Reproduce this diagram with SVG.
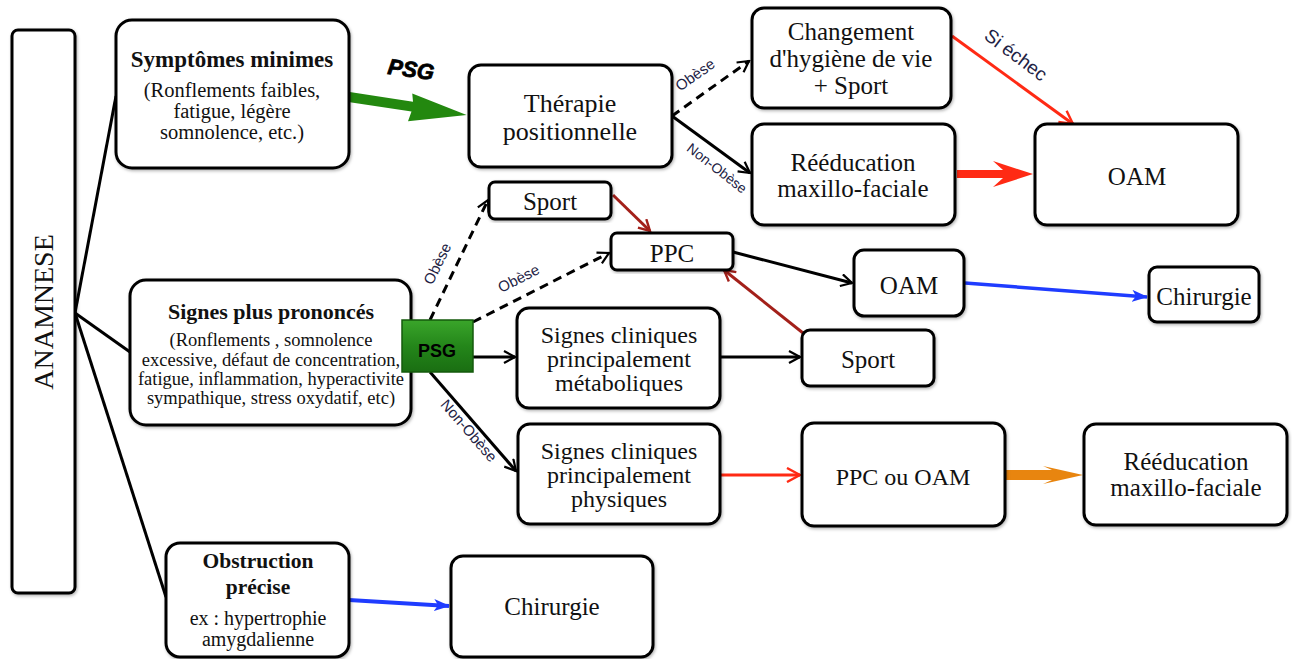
<svg xmlns="http://www.w3.org/2000/svg" width="1292" height="659" viewBox="0 0 1292 659">
<style>
.box{fill:#fff;stroke:#000;stroke-width:3;filter:url(#sh)}
.t{font-family:"Liberation Serif",serif;font-size:25px;fill:#111;text-anchor:middle}
.t24{font-family:"Liberation Serif",serif;font-size:24px;fill:#111;text-anchor:middle}
.tb{font-family:"Liberation Serif",serif;font-weight:bold;fill:#111;text-anchor:middle}
.ts{font-family:"Liberation Serif",serif;fill:#111;text-anchor:middle}
.lbl{font-family:"Liberation Sans",sans-serif;fill:#222244;text-anchor:middle}
.c{fill:none;stroke:#000;stroke-width:3}
.d{stroke-dasharray:9,6}
</style>
<defs>
<filter id="sh" x="-10%" y="-10%" width="120%" height="120%">
<feDropShadow dx="1" dy="1.5" stdDeviation="1.5" flood-color="#000" flood-opacity="0.3"/>
</filter>
<linearGradient id="gpsg" x1="0" y1="0" x2="0" y2="1">
<stop offset="0" stop-color="#3aa52a"/>
<stop offset="0.5" stop-color="#24861a"/>
<stop offset="1" stop-color="#1a6e12"/>
</linearGradient>
<marker id="ab" viewBox="0 0 14 14" refX="12" refY="7" markerWidth="14" markerHeight="14" markerUnits="userSpaceOnUse" orient="auto">
<path d="M1,1 L12,7 L1,13" fill="none" stroke="#000" stroke-width="2.2"/>
</marker>
<marker id="ar" viewBox="0 0 16 16" refX="14" refY="8" markerWidth="16" markerHeight="16" markerUnits="userSpaceOnUse" orient="auto">
<path d="M1,1 L14,8 L1,15" fill="none" stroke="#ff2a14" stroke-width="2.4"/>
</marker>
<marker id="adr" viewBox="0 0 14 14" refX="12" refY="7" markerWidth="14" markerHeight="14" markerUnits="userSpaceOnUse" orient="auto">
<path d="M1,1 L12,7 L1,13" fill="none" stroke="#a3201a" stroke-width="2.4"/>
</marker>
<marker id="abl" viewBox="0 0 16 12" refX="15" refY="6" markerWidth="16" markerHeight="12" markerUnits="userSpaceOnUse" orient="auto">
<path d="M0,0 L16,6 L0,12 L4,6 z" fill="#1f3cff"/>
</marker>
</defs>

<g id="connectors">
<path class="c" d="M75,313 L116,96"/>
<path class="c" d="M75,313 L130,352"/>
<path class="c" d="M75,313 L166,597"/>
<g id="psg-arrow" transform="rotate(8.7 349 97)">
<polygon points="349,92 413,92 411,84 468,97 411,112 413,102 349,102" fill="#23880f"/>
</g>
<text x="411" y="77" font-family="Liberation Sans, sans-serif" font-size="22" font-weight="bold" font-style="italic" fill="#000" stroke="#000" stroke-width="0.8" text-anchor="middle" transform="rotate(8 411 70)">PSG</text>
<path class="c d" d="M672,116 L749,61" marker-end="url(#ab)"/>
<path class="c" d="M672,116 L750,173" marker-end="url(#ab)"/>
<path d="M952,36 L1073,124" fill="none" stroke="#ff2a14" stroke-width="3" marker-end="url(#ar)"/>
<polygon points="957,170 1003,170 993,161 1033,174 993,187 1003,178 957,178" fill="#ff2a14"/>
<path class="c d" d="M430,320 L488,200" marker-end="url(#ab)"/>
<path class="c d" d="M473,322 L609,253" marker-end="url(#ab)"/>
<path class="c" d="M473,357 L515,357" marker-end="url(#ab)"/>
<path class="c" d="M430,372 L516,471" marker-end="url(#ab)"/>
<path class="c" d="M720,357 L800,357" marker-end="url(#ab)"/>
<path d="M613,195 L650,231" fill="none" stroke="#a3201a" stroke-width="3" marker-end="url(#adr)"/>
<path d="M808,337 L724,270" fill="none" stroke="#a3201a" stroke-width="3" marker-end="url(#adr)"/>
<path class="c" d="M733,252 L852,283" marker-end="url(#ab)"/>
<path d="M965,283 L1147,297" fill="none" stroke="#1f3cff" stroke-width="3.5" marker-end="url(#abl)"/>
<path d="M720,475 L800,475" fill="none" stroke="#ff2a14" stroke-width="3" marker-end="url(#ar)"/>
<polygon points="1004,470 1052,470 1043,466 1083,475 1043,484 1052,480 1004,480" fill="#e8850f"/>
<path d="M349,600 L449,606" fill="none" stroke="#1f3cff" stroke-width="4" marker-end="url(#abl)"/>
<text class="lbl" x="0" y="0" font-size="15" transform="translate(698 79) rotate(-35)">Obèse</text>
<text class="lbl" x="0" y="0" font-size="14" transform="translate(714 172) rotate(38)">Non-Obèse</text>
<text class="lbl" x="0" y="0" font-size="19" transform="translate(1012 60) rotate(37)">Si échec</text>
<text class="lbl" x="0" y="0" font-size="15" transform="translate(442 266) rotate(-64)">Obèse</text>
<text class="lbl" x="0" y="0" font-size="15" transform="translate(521 283) rotate(-27)">Obèse</text>
<text class="lbl" x="0" y="0" font-size="15" transform="translate(465 434) rotate(49)">Non-Obèse</text>
</g>

<g id="anamnese">
<rect class="box" x="12" y="30" width="63" height="563" rx="6"/>
<text class="ts" font-size="28" transform="translate(53 312) rotate(-90)">ANAMNESE</text>
</g>

<g id="symptomes">
<rect class="box" x="116" y="20" width="233" height="148" rx="16"/>
<text class="tb" x="232" y="67" font-size="23">Symptômes minimes</text>
<text class="ts" x="232" y="97" font-size="20.5">(Ronflements faibles,</text>
<text class="ts" x="232" y="118" font-size="20.5">fatigue, légère</text>
<text class="ts" x="232" y="139" font-size="20.5">somnolence, etc.)</text>
</g>

<g id="therapie">
<rect class="box" x="469" y="65" width="203" height="102" rx="12"/>
<text class="t" x="570" y="112" style="font-size:26px">Thérapie</text>
<text class="t" x="570" y="140" style="font-size:26px">positionnelle</text>
</g>

<g id="changement">
<rect class="box" x="752" y="8" width="199" height="100" rx="12"/>
<text class="t" x="851" y="40">Changement</text>
<text class="t" x="851" y="67">d'hygiène de vie</text>
<text class="t" x="851" y="94">+ Sport</text>
</g>

<g id="reeducation1">
<rect class="box" x="752" y="124" width="203" height="101" rx="12"/>
<text class="t" x="853" y="171">Rééducation</text>
<text class="t" x="853" y="197">maxillo-faciale</text>
</g>

<g id="oam1">
<rect class="box" x="1035" y="124" width="203" height="101" rx="12"/>
<text class="t" x="1137" y="185">OAM</text>
</g>

<g id="sport1">
<rect class="box" x="489" y="182" width="122" height="37" rx="6"/>
<text class="t" x="550" y="210">Sport</text>
</g>

<g id="ppc1">
<rect class="box" x="611" y="233" width="122" height="37" rx="6"/>
<text class="t" x="672" y="262">PPC</text>
</g>

<g id="oam2">
<rect class="box" x="854" y="250" width="110" height="66" rx="10"/>
<text class="t" x="909" y="294">OAM</text>
</g>

<g id="chirurgie1">
<rect class="box" x="1149" y="267" width="110" height="55" rx="8"/>
<text class="t" x="1204" y="305">Chirurgie</text>
</g>

<g id="signes-plus">
<rect class="box" x="130" y="280" width="281" height="145" rx="16"/>
<text class="tb" x="271" y="319" font-size="22">Signes plus prononcés</text>
<text class="ts" x="271" y="346" font-size="18.5">(Ronflements , somnolence</text>
<text class="ts" x="271" y="366" font-size="18.5">excessive, défaut de concentration,</text>
<text class="ts" x="271" y="385" font-size="18.5">fatigue, inflammation, hyperactivite</text>
<text class="ts" x="271" y="404" font-size="18.5">sympathique, stress oxydatif, etc)</text>
</g>

<g id="psg">
<rect x="402" y="320" width="71" height="52" fill="url(#gpsg)" stroke="#145a0c" stroke-width="1.5"/>
<text x="437" y="357" font-family="Liberation Sans, sans-serif" font-weight="bold" font-size="18" fill="#000" text-anchor="middle">PSG</text>
</g>

<g id="signes-meta">
<rect class="box" x="517" y="308" width="203" height="100" rx="12"/>
<text class="t24" x="619" y="343">Signes cliniques</text>
<text class="t24" x="619" y="367">principalement</text>
<text class="t24" x="619" y="391">métaboliques</text>
</g>

<g id="sport2">
<rect class="box" x="802" y="330" width="132" height="56" rx="8"/>
<text class="t" x="868" y="368">Sport</text>
</g>

<g id="signes-phys">
<rect class="box" x="518" y="424" width="202" height="100" rx="12"/>
<text class="t24" x="619" y="459">Signes cliniques</text>
<text class="t24" x="619" y="483">principalement</text>
<text class="t24" x="619" y="507">physiques</text>
</g>

<g id="ppc-oam">
<rect class="box" x="802" y="423" width="203" height="103" rx="12"/>
<text class="t24" x="903" y="485">PPC ou OAM</text>
</g>

<g id="reeducation2">
<rect class="box" x="1084" y="424" width="203" height="101" rx="12"/>
<text class="t" x="1186" y="470">Rééducation</text>
<text class="t" x="1186" y="496">maxillo-faciale</text>
</g>

<g id="obstruction">
<rect class="box" x="166" y="543" width="183" height="114" rx="14"/>
<text class="tb" x="258" y="568" font-size="21.5">Obstruction</text>
<text class="tb" x="258" y="594" font-size="21.5">précise</text>
<text class="ts" x="258" y="625" font-size="20">ex : hypertrophie</text>
<text class="ts" x="258" y="646" font-size="20">amygdalienne</text>
</g>

<g id="chirurgie2">
<rect class="box" x="451" y="556" width="202" height="101" rx="12"/>
<text class="t" x="552" y="615">Chirurgie</text>
</g>
</svg>
